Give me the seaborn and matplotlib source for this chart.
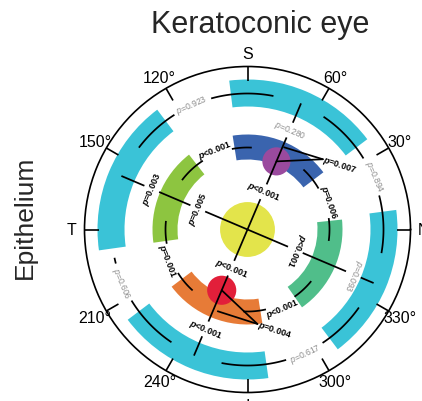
import numpy as np
import pandas as pd
import matplotlib
matplotlib.use("Agg")
import matplotlib.pyplot as plt
import seaborn as sns

# ---------------------------------------------------------------- data
# ring segments, angles in degrees (0 = N, counter-clockwise, 90 = S)
outer_start = [37, 127, 217, 307]
outer_end = [97, 188, 278, 367.5]

inner_names = ["superior", "temporal", "inferior", "nasal"]
inner_start = [37, 128, 217, 305]
inner_end = [99, 188, 279, 366]

# centre zone and the two apex spots
spot_names = ["centre", "apex_sup", "apex_inf"]
spot_theta = [0, 67, 247]
spot_r = [0, 74, 66]

# arcs joining neighbouring outer segments
outer_arc_from = [79, 56, 325, 236]
outer_arc_to = [143, -10, 259, 192]
outer_arc_at = [114, 23, 295, 203]
outer_arc_p = ["p=0.923", "p=0.894", "p=0.617", "p=0.606"]

# arcs joining neighbouring inner segments
inner_arc_from = [87, 47, 321, 228]
inner_arc_to = [143, -8, 267, 174]
inner_arc_at = [112, 19, 294, 201]
inner_arc_p = ["p<0.001", "p=0.006", "p<0.001", "p=0.001"]

# the two diameters: centre -> inner segment -> outer segment
axis_theta = [67, 157, 247, 337]
axis_inner_p = ["p<0.001", "p=0.005", "p<0.001", "p<0.001"]
axis_inner_at = [41, 54, 42, 52]
axis_outer_p = ["p=0.280", "p=0.003", "p<0.001", "p=0.093"]
axis_outer_at = [108, 104, 108, 115]

# apex spot versus its own segment
apex_p = ["p=0.007", "p=0.004"]

tick_deg = list(range(0, 360, 30))
tick_text = ["N", "30°", "60°", "S", "120°", "150°",
             "T", "210°", "240°", "I", "300°", "330°"]

# ---------------------------------------------------------------- style
sns.set_theme(style="white")
plt.rcParams["font.family"] = ["Liberation Sans", "DejaVu Sans"]
plt.rcParams["mathtext.fontset"] = "custom"
plt.rcParams["mathtext.rm"] = "Liberation Sans"
plt.rcParams["mathtext.it"] = "Liberation Sans:italic"
plt.rcParams["mathtext.bf"] = "Liberation Sans:bold"
try:
    plt.rcParams["mathtext.bfit"] = "Liberation Sans:italic:bold"
except KeyError:
    pass

CYAN = "#3AC3D7"
inner_colors = {"superior": "#3A64AE", "temporal": "#8DC540",
                "inferior": "#E77B37", "nasal": "#50BE8A"}
spot_colors = {"centre": "#E3E44B", "apex_sup": "#9A4A9E", "apex_inf": "#E21F3A"}
spot_size = {"centre": 1560, "apex_sup": 410, "apex_inf": 440}

W, H = 422, 402
cx, cy, R = 247.5, 230.5, 163.0
fig = plt.figure(figsize=(W / 100, H / 100), dpi=100)
ax = fig.add_axes([(cx - R) / W, (H - cy - R) / H, 2 * R / W, 2 * R / H],
                  projection="polar")
ax.set_ylim(0, R)
ax.set_facecolor("white")
ax.grid(False)
ax.set_yticks([])
ax.set_xticks([])
ax.spines["polar"].set_color("black")
ax.spines["polar"].set_linewidth(1.2)

R_OUT_IN, R_OUT_OUT = 123, 150
R_IN_IN, R_IN_OUT = 70, 95
R_OUT_ARC, R_IN_ARC = 136, 82
LW = 1.25


def deg(a):
    return np.deg2rad(np.asarray(a, dtype=float))


def readable(theta, upright=True):
    rot = (theta - 90) % 360
    if upright and 90 < rot < 270:
        rot -= 180
    return rot


def p_text(label):
    value = float(label[2:])
    if value < 0.05:
        return r"$\mathbfit{p}$" + label[1:], dict(color="black", fontweight="bold", fontsize=6.4)
    return r"$\mathit{p}$" + label[1:], dict(color="#8C8C8C", fontsize=6.2)


def put_p(theta, r, label, rot, ha="center"):
    s, style = p_text(label)
    ax.text(deg(theta), r, s, rotation=rot, rotation_mode="anchor",
            ha=ha, va="center", zorder=5, **style)


def arc(t0, t1, r):
    th = deg(np.linspace(t0, t1, 120))
    ax.plot(th, np.full_like(th, r), color="black", lw=LW, zorder=4,
            solid_capstyle="butt")


def arc_with_gap(t0, t1, at, r, gap):
    sgn = np.sign(t1 - t0)
    arc(t0, at - sgn * gap, r)
    arc(at + sgn * gap, t1, r)


def radial(theta, r0, r1, lw=LW):
    ax.plot(deg([theta, theta]), [r0, r1], color="black", lw=lw, zorder=4,
            solid_capstyle="butt", clip_on=False)


# ---------------------------------------------------------------- rings
o_mid = (np.array(outer_start) + np.array(outer_end)) / 2
o_wid = np.array(outer_end) - np.array(outer_start)
ax.bar(deg(o_mid), R_OUT_OUT - R_OUT_IN, width=deg(o_wid), bottom=R_OUT_IN,
       color=CYAN, edgecolor="none", zorder=1)

i_mid = (np.array(inner_start) + np.array(inner_end)) / 2
i_wid = np.array(inner_end) - np.array(inner_start)
ax.bar(deg(i_mid), R_IN_OUT - R_IN_IN, width=deg(i_wid), bottom=R_IN_IN,
       color=[inner_colors[n] for n in inner_names], edgecolor="none", zorder=1)

# ---------------------------------------------------------------- spots
spots = pd.DataFrame({"name": spot_names, "theta": deg(spot_theta), "r": spot_r})
sns.scatterplot(data=spots, x="theta", y="r", hue="name", palette=spot_colors,
                size="name", sizes=spot_size, edgecolor="none", linewidth=0,
                legend=False, ax=ax, zorder=2)
ax.set_xlabel("")
ax.set_ylabel("")

# ---------------------------------------------------------------- arcs
for t0, t1, at, p in zip(outer_arc_from, outer_arc_to, outer_arc_at, outer_arc_p):
    arc_with_gap(t0, t1, at, R_OUT_ARC, 8.5)
    put_p(at, R_OUT_ARC + 1, p, readable(at))

for t0, t1, at, p in zip(inner_arc_from, inner_arc_to, inner_arc_at, inner_arc_p):
    arc_with_gap(t0, t1, at, R_IN_ARC, 11)
    put_p(at, R_IN_ARC + 4, p, readable(at))

# ---------------------------------------------------------------- diameters
GAP = 8
for th, pi, ri, po, ro in zip(axis_theta, axis_inner_p, axis_inner_at,
                              axis_outer_p, axis_outer_at):
    radial(th, 0, ri - GAP)
    radial(th, ri + GAP, ro - GAP)
    radial(th, ro + GAP, R_OUT_ARC + 1)
    upright = th != 337
    put_p(th, ri, pi, readable(th, upright))
    put_p(th, ro, po, readable(th, upright))

# ---------------------------------------------------------------- apex vs segment
apex_theta = [spot_theta[1], spot_theta[2]]
apex_r = [spot_r[1], spot_r[2]]
seg_point = [(66, 90), (250, 87)]
fan_point = [(43, 103), (276, 95)]
for th, r, (st, sr), (ft, fr), p in zip(apex_theta, apex_r, seg_point, fan_point, apex_p):
    ax.plot(deg([th, ft]), [r, fr], color="black", lw=LW, zorder=4)
    ax.plot(deg([st, ft]), [sr, fr], color="black", lw=LW, zorder=4)
    put_p(ft, fr, p, -18, ha="left")

# ---------------------------------------------------------------- orientation ticks and labels
for d, t in zip(tick_deg, tick_text):
    radial(d, R - 14, R, lw=1.2)
    ax.text(deg(d), 176, t, ha="center", va="center", fontsize=11.5,
            color="black", clip_on=False, zorder=5)

fig.text(260 / W, 1 - 33 / H, "Keratoconic eye", ha="center", va="baseline",
         fontsize=22)
fig.text(25 / W, 1 - 217 / H, "Epithelium", ha="center", va="center",
         rotation=90, fontsize=19)

fig.savefig("out.png", dpi=100, facecolor="white")
